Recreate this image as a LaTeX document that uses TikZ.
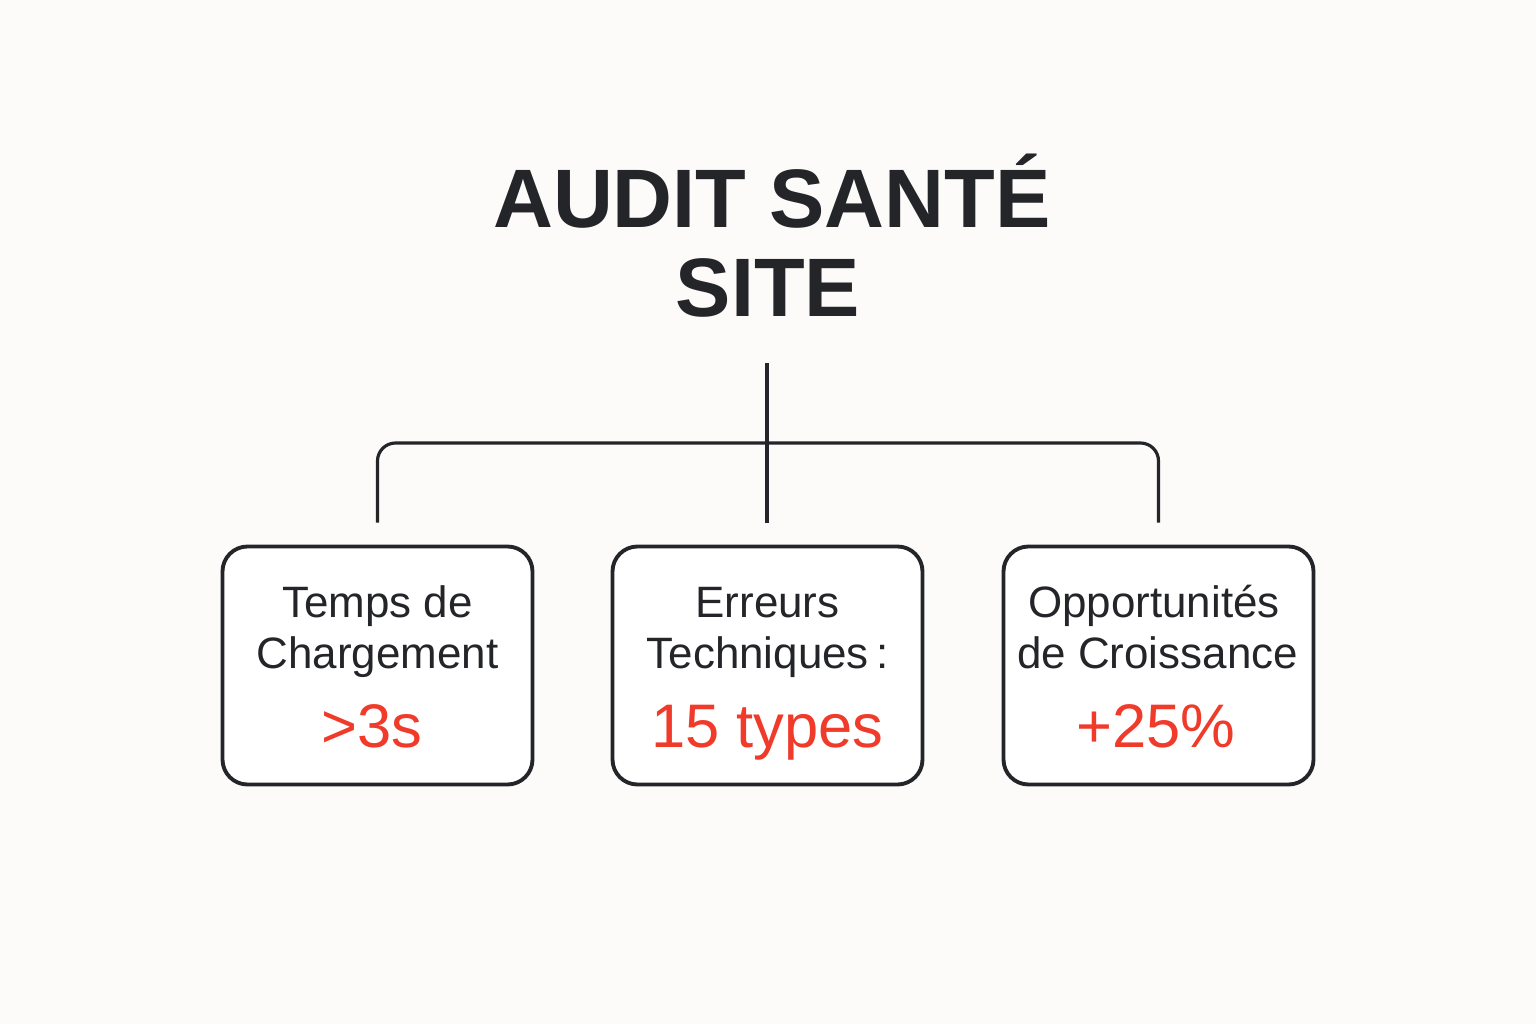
\documentclass[tikz,border=0pt]{standalone}
\usepackage{fontspec}
\setmainfont{Liberation Sans}
\usetikzlibrary{positioning}
\definecolor{bgcol}{RGB}{253,251,250}
\definecolor{inkcol}{RGB}{36,37,41}
\definecolor{valcol}{RGB}{240,58,42}
\tikzset{
	metricbox/.style={draw=inkcol, line width=1.1pt, rounded corners=0.25cm, fill=white,
		minimum width=3.1cm, minimum height=2.38cm},
	boxtext/.style={anchor=base, text=inkcol, font=\fontsize{12.5}{14.5}\selectfont},
	valtext/.style={anchor=base, text=valcol, font=\fontsize{17.5}{20}\selectfont},
	conn/.style={draw=inkcol, line width=0.9pt, rounded corners=0.18cm}
}
\begin{document}
\begin{tikzpicture}
	\fill[bgcol] (0,0) rectangle (15.36,10.24);
	\useasboundingbox (0,0) rectangle (15.36,10.24);
	% title
	\node[anchor=base, text=inkcol, font=\fontsize{23.6}{28}\bfseries\selectfont] (title1) at (7.72,7.96) {AUDIT SANTÉ};
	\node[anchor=base, text=inkcol, font=\fontsize{23.6}{28}\bfseries\selectfont] (title2) at (7.68,7.08) {SITE};
	% boxes
	\node[metricbox] (load) at (3.775,3.585) {};
	\node[metricbox] (err) at (7.675,3.585) {};
	\node[metricbox] (grow) at (11.585,3.585) {};
	\node[boxtext] (load1) at (3.775,4.07) {Temps de};
	\node[boxtext] (load2) at (3.775,3.56) {Chargement};
	\node[valtext] (loadv) at (3.72,2.77) {>3s};
	\node[boxtext] (err1) at (7.675,4.07) {Erreurs};
	\node[boxtext] (err2) at (7.675,3.56) {Techniques\,:};
	\node[valtext] (errv) at (7.675,2.77) {15 types};
	\node[boxtext] (grow1) at (11.54,4.07) {Opportunités};
	\node[boxtext] (grow2) at (11.575,3.56) {de Croissance};
	\node[valtext] (growv) at (11.56,2.77) {+25\%};
	% connectors
	\coordinate (trunk) at (7.67,6.61);
	\coordinate (hub) at (7.67,5.81);
	\draw[conn] ([yshift=2.2mm]load.north) -- (load.north |- hub) -- (grow.north |- hub) -- ([yshift=2.2mm]grow.north);
	\draw[conn] (trunk) -- ([yshift=2.2mm]err.north -| trunk);
\end{tikzpicture}
\end{document}
